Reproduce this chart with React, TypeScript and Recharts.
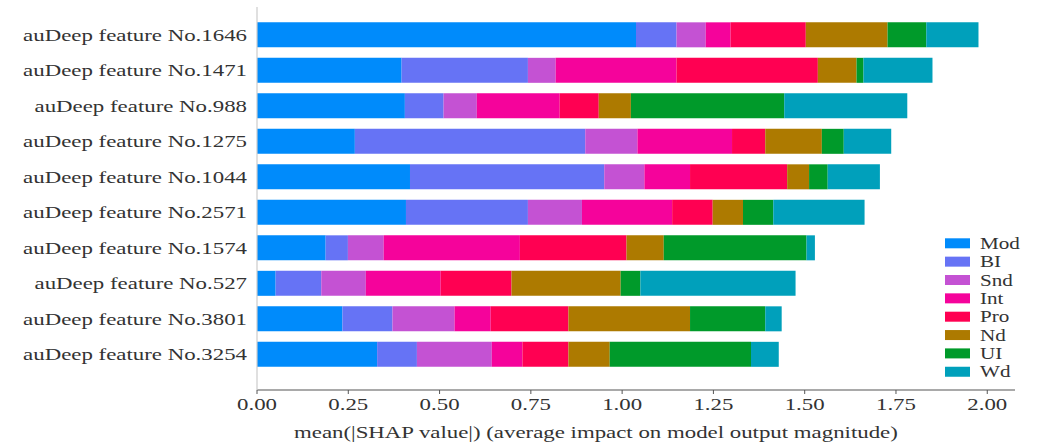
import React from 'react';
import { BarChart, Bar, XAxis, YAxis, Legend } from 'recharts';

const FEATURES = [
  'auDeep feature No.1646',
  'auDeep feature No.1471',
  'auDeep feature No.988',
  'auDeep feature No.1275',
  'auDeep feature No.1044',
  'auDeep feature No.2571',
  'auDeep feature No.1574',
  'auDeep feature No.527',
  'auDeep feature No.3801',
  'auDeep feature No.3254',
];

const MOD = [1.038, 0.396, 0.405, 0.268, 0.419, 0.408, 0.188, 0.051, 0.234, 0.329];
const BI = [0.111, 0.346, 0.106, 0.631, 0.532, 0.334, 0.061, 0.125, 0.137, 0.109];
const SND = [0.080, 0.076, 0.091, 0.143, 0.110, 0.148, 0.098, 0.122, 0.170, 0.205];
const INT = [0.068, 0.331, 0.227, 0.259, 0.125, 0.247, 0.373, 0.205, 0.099, 0.084];
const PRO = [0.206, 0.387, 0.107, 0.091, 0.266, 0.111, 0.292, 0.194, 0.213, 0.126];
const ND = [0.224, 0.106, 0.088, 0.155, 0.060, 0.083, 0.102, 0.299, 0.333, 0.113];
const UI = [0.106, 0.019, 0.420, 0.060, 0.051, 0.083, 0.391, 0.054, 0.206, 0.387];
const WD = [0.143, 0.189, 0.337, 0.130, 0.143, 0.250, 0.023, 0.425, 0.045, 0.076];

const SERIES_NAMES = ['Mod', 'BI', 'Snd', 'Int', 'Pro', 'Nd', 'UI', 'Wd'];
const SERIES_VALUES = [MOD, BI, SND, INT, PRO, ND, UI, WD];
const COLORS = ['#008bfb', '#6673f5', '#c452d3', '#f5039b', '#ff0052', '#ad7a00', '#009a2a', '#00a0bb'];

const X_TICKS = [0, 0.25, 0.5, 0.75, 1.0, 1.25, 1.5, 1.75, 2.0];
const X_LABEL = 'mean(|SHAP value|) (average impact on model output magnitude)';

const data = FEATURES.map((feature, i) => {
  const row: Record<string, any> = { feature };
  SERIES_NAMES.forEach((name, s) => {
    row[name] = SERIES_VALUES[s][i];
  });
  return row;
});

const FONT = '"Liberation Serif", "Times New Roman", serif';
const STRETCH = 1.345;

const YTick = (props: any) => {
  const { x, y, payload } = props;
  return (
    <text
      transform={`translate(${x},${y}) scale(${STRETCH},1)`}
      textAnchor="end"
      dy={6}
      fontSize={17}
      fontFamily={FONT}
      fill="#333"
    >
      {payload.value}
    </text>
  );
};

const XTick = (props: any) => {
  const { x, y, payload } = props;
  return (
    <text
      transform={`translate(${x},${y}) scale(${STRETCH},1)`}
      textAnchor="middle"
      dy={14}
      fontSize={17}
      fontFamily={FONT}
      fill="#333"
    >
      {payload.value.toFixed(2)}
    </text>
  );
};

const AxisLabel = (props: any) => {
  const vb = props.viewBox || { x: 257, y: 390 };
  return (
    <text
      transform={`translate(${vb.x + 37},${vb.y + 48}) scale(${STRETCH},1)`}
      textAnchor="start"
      fontSize={17}
      fontFamily={FONT}
      fill="#333"
    >
      {X_LABEL}
    </text>
  );
};

const LegendContent = () => (
  <svg width={100} height={150}>
    {SERIES_NAMES.map((name, i) => {
      const cy = 13.3 + i * 18.35;
      return (
        <g key={name}>
          <rect x={5} y={cy - 5} width={25} height={10} fill={COLORS[i]} />
          <text
            transform={`translate(40,${cy + 5.5}) scale(1.32,1)`}
            fontSize={16}
            fontFamily={FONT}
            fill="#333"
          >
            {name}
          </text>
        </g>
      );
    })}
  </svg>
);

export default function App() {
  return (
    <div style={{ position: 'absolute', left: 0, top: 0, width: 1046, height: 445, background: '#fff' }}>
      <BarChart
        width={1046}
        height={445}
        data={data}
        layout="vertical"
        margin={{ top: 7, right: 31, bottom: 0, left: 0 }}
        barCategoryGap="15%"
      >
        <XAxis
          type="number"
          domain={[0, 2.076]}
          ticks={X_TICKS}
          allowDataOverflow
          height={55}
          axisLine={{ stroke: '#555', strokeWidth: 1.2 }}
          tickLine={{ stroke: '#555' }}
          tickSize={4}
          tickMargin={2}
          tick={<XTick />}
          interval={0}
          label={<AxisLabel />}
        />
        <YAxis
          type="category"
          dataKey="feature"
          width={257}
          axisLine={{ stroke: '#cccccc', strokeWidth: 1.2 }}
          tickLine={false}
          tickSize={0}
          tickMargin={10}
          tick={<YTick />}
          interval={0}
          padding={{ top: 10, bottom: 18 }}
        />
        <Legend
          layout="vertical"
          align="center"
          verticalAlign="middle"
          wrapperStyle={{ left: 940, top: 230, width: 100, height: 150 }}
          content={<LegendContent />}
        />
        {SERIES_NAMES.map((name, i) => (
          <Bar
            key={name}
            dataKey={name}
            stackId="a"
            fill={COLORS[i]}
            isAnimationActive={false}
          />
        ))}
      </BarChart>
    </div>
  );
}
